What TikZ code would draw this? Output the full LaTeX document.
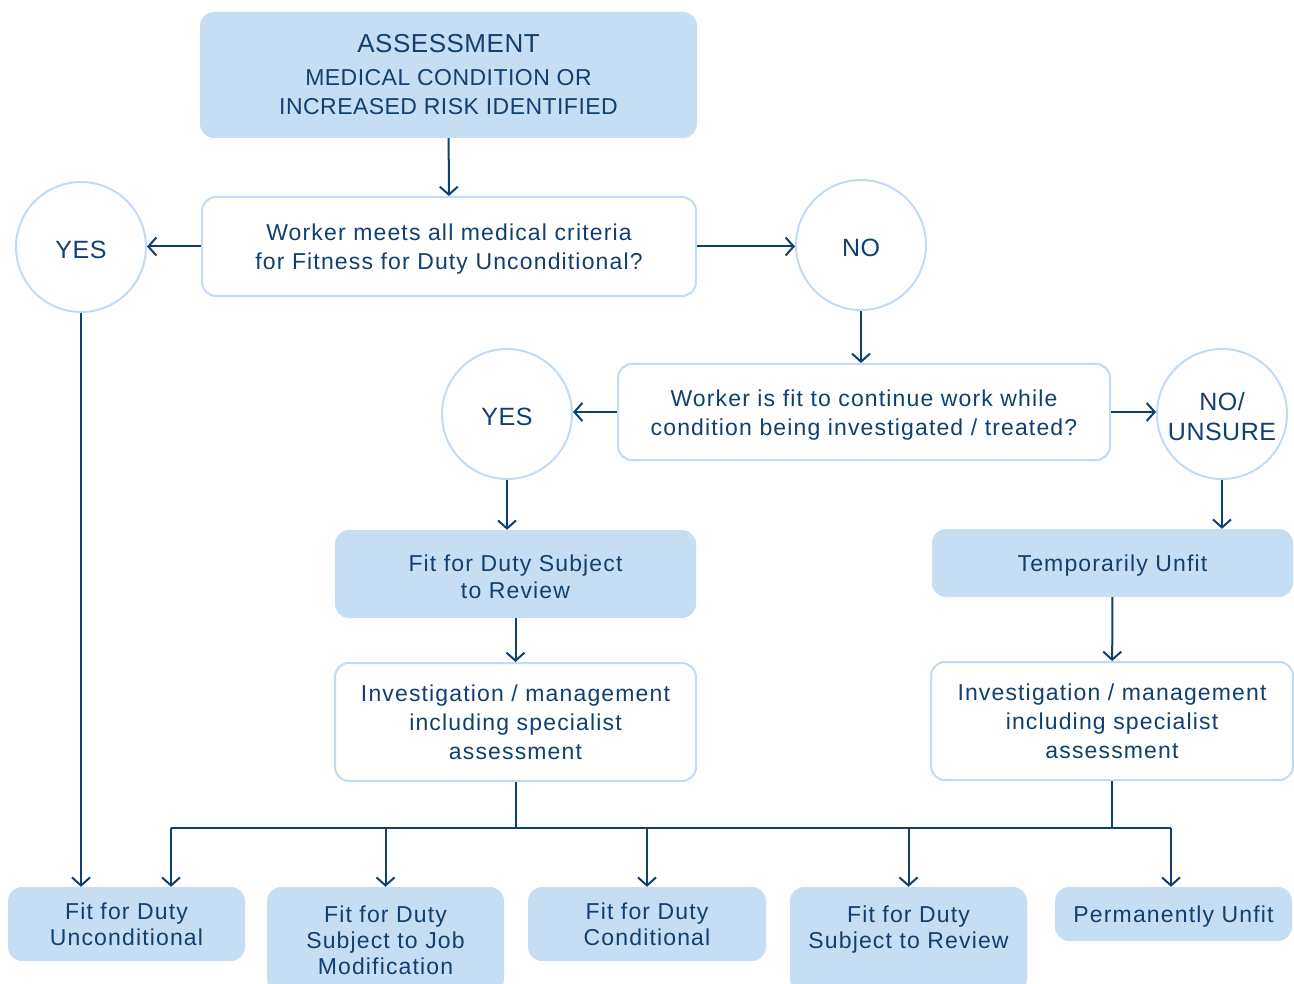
\documentclass[tikz,border=0pt]{standalone}
\usepackage{fontspec}
\setmainfont{Liberation Sans}[LetterSpace=5]
\newfontfamily\capsfont{Liberation Sans}[LetterSpace=2]
\usetikzlibrary{arrows.meta}
\definecolor{navy}{HTML}{0F406F}
\definecolor{lblue}{HTML}{C6DEF4}
\definecolor{lborder}{HTML}{C3DBF2}
\newcommand\up{\rule{0pt}{22.5pt}}
\begin{document}
\begin{tikzpicture}[x=1pt,y=-1pt,
 txt/.style={text=navy, font=\fontsize{23}{29}\selectfont, align=center},
 filledbox/.style={txt, fill=lblue, rounded corners=14pt, inner sep=0pt},
 openbox/.style={txt, draw=lborder, line width=2pt, fill=white, rounded corners=14pt, inner sep=0pt},
 decision/.style={txt, circle, draw=lborder, line width=2pt, minimum size=130pt, inner sep=0pt, font=\capsfont\fontsize{25}{30}\selectfont},
 result/.style={filledbox, font=\fontsize{23}{26}\selectfont},
 conn/.style={draw=navy, line width=2pt, -{Straight Barb[length=8pt,width=18pt,line width=2pt]}},
 plain/.style={draw=navy, line width=2pt}
]
\useasboundingbox (0,0) rectangle (1294,984);
\clip (0,0) rectangle (1294,984);

\node[filledbox, minimum width=497pt, minimum height=126pt, font=\capsfont\fontsize{23}{29}\selectfont] (assess) at (448.5,75)
  {{\fontsize{26}{30}\selectfont ASSESSMENT}\\[4pt]MEDICAL CONDITION OR\\INCREASED RISK IDENTIFIED};
\node[openbox, minimum width=494pt, minimum height=99pt] (q1) at (449,246.5)
  {\up Worker meets all medical criteria\\for Fitness for Duty Unconditional?};
\node[decision] (yes1) at (81,247) {\up YES};
\node[decision] (no1) at (861,245) {\up NO};
\node[openbox, minimum width=492pt, minimum height=96pt] (q2) at (864,412)
  {\up Worker is fit to continue work while\\condition being investigated / treated?};
\node[decision] (yes2) at (507,414) {\up YES};
\node[decision] (nou) at (1222,414) {\up NO/\\UNSURE};
\node[filledbox, minimum width=361pt, minimum height=88pt, font=\fontsize{23}{27}\selectfont] (fsr) at (515.5,574)
  {\up Fit for Duty Subject\\to Review};
\node[openbox, minimum width=361pt, minimum height=118pt] (inv1) at (515.5,722)
  {Investigation / management\\including specialist\\assessment};
\node[filledbox, minimum width=361pt, minimum height=68pt] (tu) at (1112.5,563)
  {\up Temporarily Unfit};
\node[openbox, minimum width=362pt, minimum height=118pt] (inv2) at (1112,721)
  {Investigation / management\\including specialist\\assessment};

\node[result, minimum width=237pt, minimum height=74pt] (b1) at (126.5,924)
  {Fit for Duty\\Unconditional};
\node[result, minimum width=237pt, minimum height=106pt] (b2) at (385.5,940)
  {Fit for Duty\\Subject to Job\\Modification};
\node[result, minimum width=238pt, minimum height=74pt] (b3) at (647,924)
  {Fit for Duty\\Conditional};
\node[result, minimum width=237pt, minimum height=106pt] (b4) at (908.5,940)
  {Fit for Duty\\Subject to Review\\\mbox{}};
\node[result, minimum width=237pt, minimum height=54pt] (b5) at (1173.5,914)
  {\up Permanently Unfit};

\coordinate (busL) at (171,828);
\coordinate (busR) at (1171,828);

\draw[conn] (assess) -- (q1);
\draw[conn] (q1.west) -- (q1.west -| yes1.east);
\draw[conn] (q1.east) -- (q1.east -| no1.west);
\draw[conn] (no1) -- (no1 |- q2.north);
\draw[conn] (q2.west) -- (q2.west -| yes2.east);
\draw[conn] (q2.east) -- (q2.east -| nou.west);
\draw[conn] (yes2.south) -- (yes2.south |- fsr.north);
\draw[conn] (fsr) -- (inv1);
\draw[conn] (nou.south) -- (nou.south |- tu.north);
\draw[conn] (tu) -- (inv2);
\draw[plain] (inv1.south) -- (inv1.south |- busL);
\draw[plain] (inv2.south) -- (inv2.south |- busR);
\draw[plain] (busL) -- (busR);
\draw[conn] (busL) -- (busL |- b1.north);
\draw[conn] (b2.north |- busL) -- (b2.north);
\draw[conn] (b3.north |- busL) -- (b3.north);
\draw[conn] (b4.north |- busL) -- (b4.north);
\draw[conn] (busR) -- (busR |- b5.north);
\draw[conn] (yes1) -- (yes1 |- b1.north);
\end{tikzpicture}
\end{document}
